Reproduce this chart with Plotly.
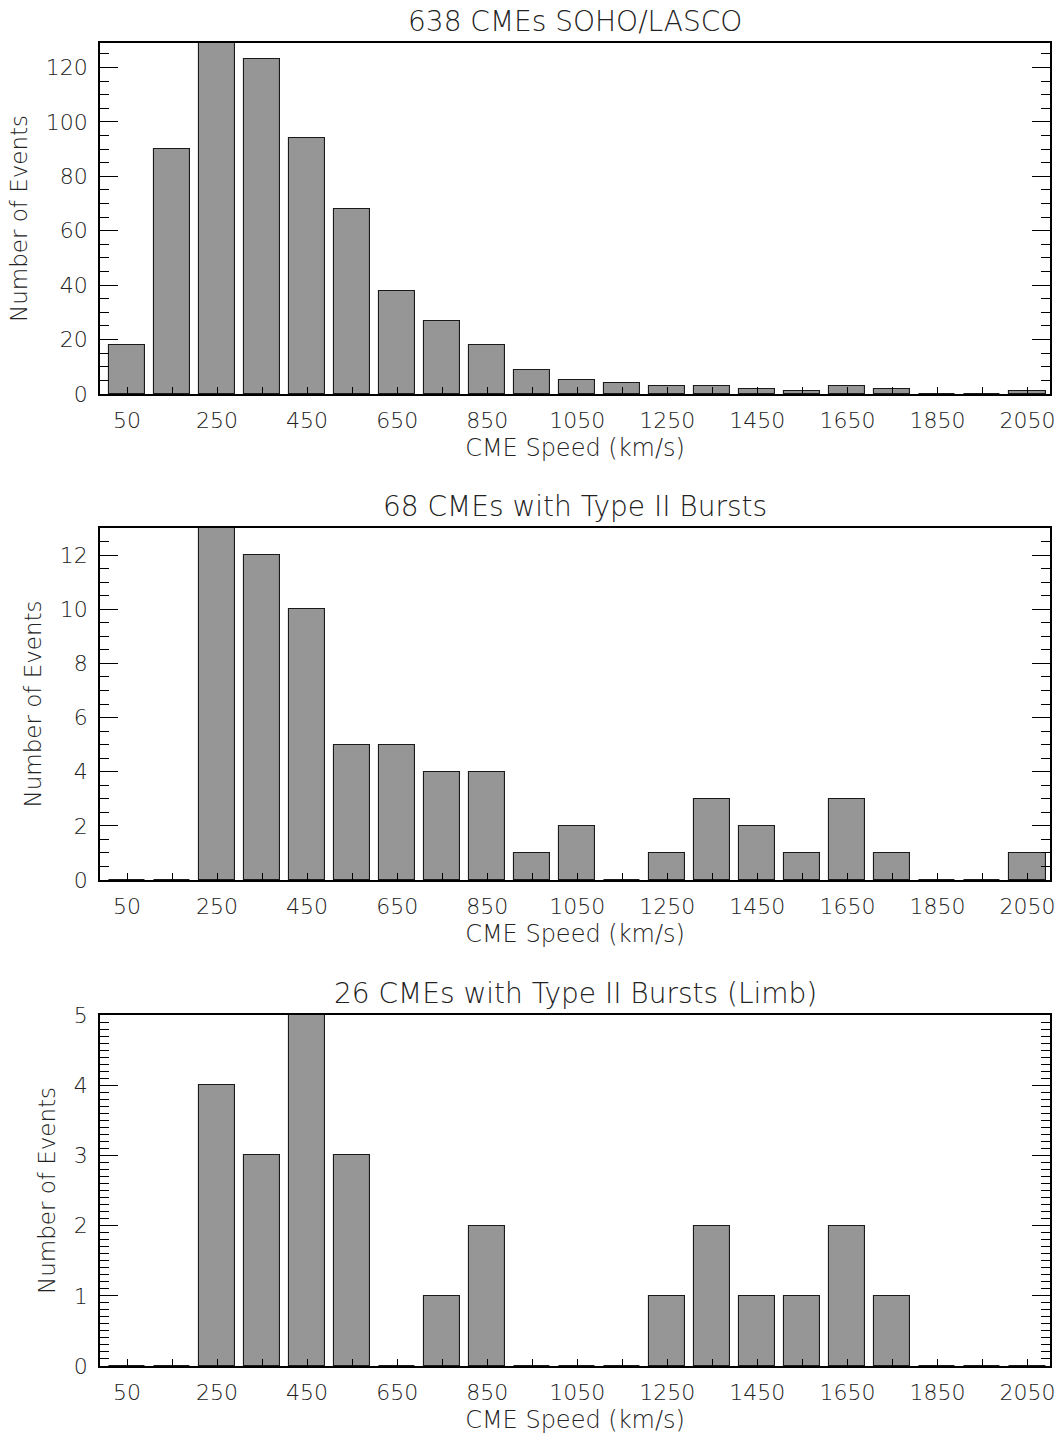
import plotly.graph_objects as go

# ---- data ----
speed_bins = [50, 150, 250, 350, 450, 550, 650, 750, 850, 950, 1050,
              1150, 1250, 1350, 1450, 1550, 1650, 1750, 1850, 1950, 2050]
all_cmes = [18, 90, 129, 123, 94, 68, 38, 27, 18, 9, 5,
            4, 3, 3, 2, 1, 3, 2, 0, 0, 1]
type2_cmes = [0, 0, 13, 12, 10, 5, 5, 4, 4, 1, 2,
              0, 1, 3, 2, 1, 3, 1, 0, 0, 1]
type2_limb_cmes = [0, 0, 4, 3, 5, 3, 0, 1, 2, 0, 0,
                   0, 1, 2, 1, 1, 2, 1, 0, 0, 0]
x_tick_vals = [50, 250, 450, 650, 850, 1050, 1250, 1450, 1650, 1850, 2050]
x_tick_text = [str(v) for v in x_tick_vals]
panel_titles = ["638 CMEs SOHO/LASCO",
                "68 CMEs with Type II Bursts",
                "26 CMEs with Type II Bursts (Limb)"]
y_ranges = [[0, 129], [0, 13], [0, 5]]
y_dticks = [20, 2, 1]
y_minor = [5, 0.5, 0.1]
x_title = "CME Speed (km/s)"
y_title = "Number of Events"

FONT = "DejaVu Sans"
TXT = "#222222"

fig = go.Figure()
series = [all_cmes, type2_cmes, type2_limb_cmes]
domains = [[0.7347, 1.0], [0.3673, 0.6334], [0.0, 0.2653]]

for i, vals in enumerate(series):
    n = "" if i == 0 else str(i + 1)
    fig.add_trace(go.Bar(
        x=speed_bins, y=vals, width=80,
        marker=dict(color="#969696", line=dict(color="#1a1a1a", width=1.1)),
        xaxis="x" + n, yaxis="y" + n, showlegend=False,
        hoverinfo="x+y",
    ))
    xa = dict(
        range=[-10, 2100], domain=[0, 1], anchor="y" + n, automargin=False,
        tickmode="array", tickvals=x_tick_vals, ticktext=x_tick_text,
        ticks="inside", ticklen=7, tickwidth=1.2, tickcolor="black",
        minor=dict(tickmode="linear", tick0=150, dtick=200, ticks="inside",
                   ticklen=7, tickwidth=1.2, tickcolor="black"),
        showline=True, linecolor="black", linewidth=1.5, mirror=True,
        showgrid=False, zeroline=False,
        tickfont=dict(family=FONT, size=22, color=TXT, weight=300),
        ticklabelstandoff=6,
        title=dict(text=x_title, standoff=7,
                   font=dict(family=FONT, size=24, color=TXT, weight=300)),
    )
    ya = dict(
        range=y_ranges[i], domain=domains[i], anchor="x" + n, automargin=False,
        tickmode="linear", tick0=0, dtick=y_dticks[i],
        ticks="inside", ticklen=18, tickwidth=1.2, tickcolor="black",
        minor=dict(tickmode="linear", dtick=y_minor[i], ticks="inside",
                   ticklen=9, tickwidth=1.2, tickcolor="black"),
        showline=True, linecolor="black", linewidth=1.5, mirror="ticks",
        showgrid=False, zeroline=False,
        tickfont=dict(family=FONT, size=22, color=TXT, weight=300),
        ticklabelstandoff=6,
        title=dict(text=y_title, standoff=12,
                   font=dict(family=FONT, size=23, color=TXT, weight=300)),
    )
    fig.update_layout(**{"xaxis" + n: xa, "yaxis" + n: ya})
    fig.add_annotation(
        text=panel_titles[i], xref="paper", yref="paper",
        x=0.5, y=domains[i][1], yshift=3, yanchor="bottom",
        showarrow=False,
        font=dict(family=FONT, size=28, color=TXT, weight=300),
    )

fig.update_layout(
    width=1058, height=1437,
    margin=dict(l=100, r=8, t=43, b=71),
    paper_bgcolor="white", plot_bgcolor="white",
    bargap=0,
)

fig.write_html(
    "out.html",
    config={"displayModeBar": False},
    post_script="document.body.style.margin='0';document.body.style.overflow='hidden';",
)
